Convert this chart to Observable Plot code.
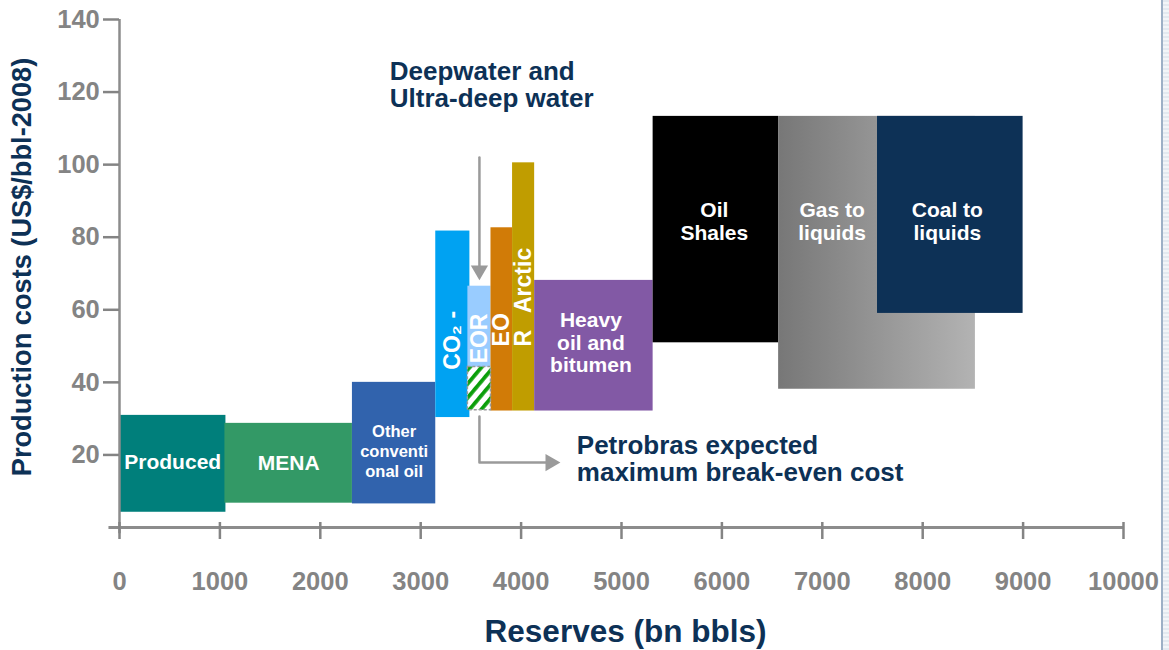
<!DOCTYPE html>
<html>
<head>
<meta charset="utf-8">
<script src="https://cdn.jsdelivr.net/npm/d3@7"></script>
<script src="https://cdn.jsdelivr.net/npm/@observablehq/plot@0.6"></script>
<style>
  body { margin: 0; background: #fff; font-family: Arial, "Liberation Sans", sans-serif; }
  #wrap { position: relative; width: 1169px; height: 650px; overflow: hidden; }
  #edge { position: absolute; left: 1161px; top: 0; width: 8px; height: 650px; box-sizing: border-box;
          border-left: 2px solid #9db0c6;
          background: repeating-linear-gradient(#e3e9f0 0 2px, #f3f5f8 2px 4px); }
</style>
</head>
<body>
<div id="wrap"><div id="edge"></div></div>
<script>
// ---------- data ----------
const categories = ["Produced", "MENA", "Other conventional oil", "CO2-EOR",
  "Deepwater and Ultra-deep water", "EOR", "Arctic", "Heavy oil and bitumen",
  "Oil Shales", "Gas to liquids", "Coal to liquids"];
const reservesStart = [0, 1050, 2320, 3150, 3470, 3700, 3915, 4135, 5315, 6565, 7550];
const reservesEnd   = [1060, 2320, 3150, 3490, 3700, 3915, 4135, 5315, 6565, 8525, 9000];
const costLow  = [4.2, 6.7, 6.5, 30.3, 32.3, 32.1, 32.1, 32.1, 50.9, 38.1, 59.0];
const costHigh = [30.9, 28.7, 40.0, 81.7, 66.5, 82.6, 100.5, 68.1, 113.3, 113.3, 113.3];
const blockLabels = ["Produced", "MENA", "Other\nconventi\nonal oil", "", "", "", "",
  "Heavy\noil and\nbitumen", "Oil\nShales", "Gas to\nliquids", "Coal to\nliquids"];
const petrobrasBreakEven = 44.2;   // top of hatched zone in the deepwater block
const xTicks = [0, 1000, 2000, 3000, 4000, 5000, 6000, 7000, 8000, 9000, 10000];
const yTicks = [20, 40, 60, 80, 100, 120, 140];

// ---------- styles ----------
const blockFills = ["#007f7b", "#339966", "#3163ad", "#00a2f2", "#99ccff", "#d17b07",
  "#c09d00", "#8259a5", "#000000", "url(#gtl)", "#0d3156"];
const navy = "#0d3156";
const axisGray = "#8c8c8c";
const font = "Arial, 'Liberation Sans', sans-serif";

const blocks = categories.map((c, i) => ({
  category: c, x1: reservesStart[i], x2: reservesEnd[i],
  y1: costLow[i], y2: costHigh[i], fill: blockFills[i], label: blockLabels[i]
}));
const byName = Object.fromEntries(blocks.map(b => [b.category, b]));
const mid = (a, b) => (a + b) / 2;

// label anchors (data units), default is block centre
const topRow = 84.4;
const labelAnchor = {
  "Produced": b => [mid(b.x1, b.x2), mid(b.y1, b.y2) + 0.5],
  "Other conventional oil": b => [mid(b.x1, b.x2), mid(b.y1, b.y2) - 2.0],
  "Heavy oil and bitumen": b => [mid(b.x1, b.x2) - 30, mid(b.y1, b.y2) + 0.9],
  "Oil Shales": b => [mid(b.x1, b.x2) - 15, topRow],
  "Gas to liquids": b => [mid(b.x1, byName["Coal to liquids"].x1) + 40, topRow],
  "Coal to liquids": b => [mid(b.x1, b.x2) - 30, topRow],
};
const labelRows = blocks.filter(b => b.label).map(b => {
  const [lx, ly] = (labelAnchor[b.category] || (d => [mid(d.x1, d.x2), mid(d.y1, d.y2)]))(b);
  return {...b, lx, ly, small: b.category === "Other conventional oil"};
});

const deep = byName["Deepwater and Ultra-deep water"];
const co2 = byName["CO2-EOR"], eor = byName["EOR"], arctic = byName["Arctic"];
const verticalLabels = [
  {text: "CO₂ -", x: mid(co2.x1, co2.x2), y: 51.6, anchor: "middle"},
  {text: "EOR", x: mid(deep.x1, deep.x2), y: 52.1, anchor: "middle"},
  {text: "EO", x: mid(eor.x1, eor.x2), y: 49.9, anchor: "start"},
  {text: "R", x: mid(arctic.x1, arctic.x2), y: 49.9, anchor: "start"},
  {text: "Arctic", x: mid(arctic.x1, arctic.x2), y: 68.1, anchor: "middle"},
];
const hatch = [{x1: deep.x1, x2: deep.x2, y1: deep.y1, y2: petrobrasBreakEven}];

const arrowX = mid(deep.x1, deep.x2);
const deepArrow = [{x: arrowX, y: 102}, {x: arrowX, y: 71.9}];
const deepTip = [{x: arrowX, y: 68.1}];
const petroPath = [{x: arrowX, y: 30.6}, {x: arrowX, y: 17.9}, {x: 4260, y: 17.9}];
const petroTip = [{x: 4392, y: 17.9}];

const plot = Plot.plot({
  width: 1169, height: 650,
  marginLeft: 119, marginRight: 46, marginTop: 19, marginBottom: 123,
  x: {domain: [0, 10000], axis: null},
  y: {domain: [0, 140], axis: null},
  color: {type: "identity"},
  style: {fontFamily: font, background: "transparent", overflow: "visible"},
  marks: [
    Plot.rect(blocks, {x1: "x1", x2: "x2", y1: "y1", y2: "y2", fill: "fill"}),
    Plot.rect(hatch, {x1: "x1", x2: "x2", y1: "y1", y2: "y2", fill: "url(#hatch)",
      stroke: "#9a9a9a", strokeWidth: 1.5, strokeDasharray: "3 2"}),
    Plot.text(labelRows.filter(d => !d.small), {x: "lx", y: "ly", text: "label",
      fill: "white", fontSize: 21, fontWeight: "bold", lineHeight: 1.07}),
    Plot.text(labelRows.filter(d => d.small), {x: "lx", y: "ly", text: "label",
      fill: "white", fontSize: 16.5, fontWeight: "bold", lineHeight: 1.21}),
    Plot.text(verticalLabels.filter(d => d.anchor === "middle"), {x: "x", y: "y", text: "text",
      rotate: -90, textAnchor: "middle", lineAnchor: "middle",
      fill: "white", fontSize: 23, fontWeight: "bold"}),
    Plot.text(verticalLabels.filter(d => d.anchor === "start"), {x: "x", y: "y", text: "text",
      rotate: -90, textAnchor: "start", lineAnchor: "middle",
      fill: "white", fontSize: 23, fontWeight: "bold"}),
    // axes
    Plot.ruleY([0], {x1: -105, x2: 10000, stroke: axisGray, strokeWidth: 3}),
    Plot.ruleX([0], {y1: -1.7, y2: 140, stroke: axisGray, strokeWidth: 2.5}),
    Plot.axisX({ticks: xTicks, tickSize: 17, dy: -5, tickPadding: 32, tickFormat: d3.format("d"),
      fontSize: 25.5, fontWeight: "bold", color: "#848484", strokeWidth: 2.5, label: null}),
    Plot.axisY({ticks: yTicks, tickSize: 16, tickPadding: 3.7, tickFormat: d3.format("d"),
      fontSize: 25.5, fontWeight: "bold", color: "#848484", strokeWidth: 2.5, label: null}),
    Plot.text(["Reserves (bn bbls)"], {frameAnchor: "bottom", lineAnchor: "middle", textAnchor: "middle",
      dy: 104, dx: 4, fontSize: 31.5, fontWeight: "bold", fill: navy}),
    Plot.text(["Production costs (US$/bbl-2008)"], {frameAnchor: "left", lineAnchor: "middle",
      textAnchor: "middle", rotate: -90, dx: -97, dy: -6.5, fontSize: 27.2, fontWeight: "bold", fill: navy}),
    // annotations
    Plot.line(deepArrow, {x: "x", y: "y", stroke: "#9a9a9a", strokeWidth: 2.5}),
    Plot.dot(deepTip, {x: "x", y: "y", symbol: "triangle", r: 6.4, rotate: 180, dy: -10,
      fill: "#9a9a9a", stroke: "none"}),
    Plot.line(petroPath, {x: "x", y: "y", stroke: "#9a9a9a", strokeWidth: 2.5}),
    Plot.dot(petroTip, {x: "x", y: "y", symbol: "triangle", r: 6.4, rotate: 90, dx: -10,
      fill: "#9a9a9a", stroke: "none"}),
    Plot.text(["Deepwater and\nUltra-deep water"], {x: 2692, y: 122.1, textAnchor: "start",
      lineAnchor: "middle", lineHeight: 1.04, fontSize: 26, fontWeight: "bold", fill: navy}),
    Plot.text(["Petrobras expected\nmaximum break-even cost"], {x: 4555, y: 18.9, textAnchor: "start",
      lineAnchor: "middle", lineHeight: 1.04, fontSize: 26, fontWeight: "bold", fill: navy}),
  ]
});

const defs = d3.select(plot).insert("defs", ":first-child");
const g = defs.append("linearGradient").attr("id", "gtl").attr("x1", 0).attr("x2", 1).attr("y1", 0).attr("y2", 0);
g.append("stop").attr("offset", 0).attr("stop-color", "#777777");
g.append("stop").attr("offset", 1).attr("stop-color", "#b3b3b3");
const p = defs.append("pattern").attr("id", "hatch").attr("patternUnits", "userSpaceOnUse")
  .attr("width", 9).attr("height", 9).attr("patternTransform", "rotate(40)");
p.append("rect").attr("width", 9).attr("height", 9).attr("fill", "#ffffff");
p.append("rect").attr("width", 3.8).attr("height", 9).attr("fill", "#0a9e0a");

plot.style.position = "absolute";
plot.style.left = "0px";
plot.style.top = "0px";
document.getElementById("wrap").prepend(plot);
</script>
</body>
</html>
